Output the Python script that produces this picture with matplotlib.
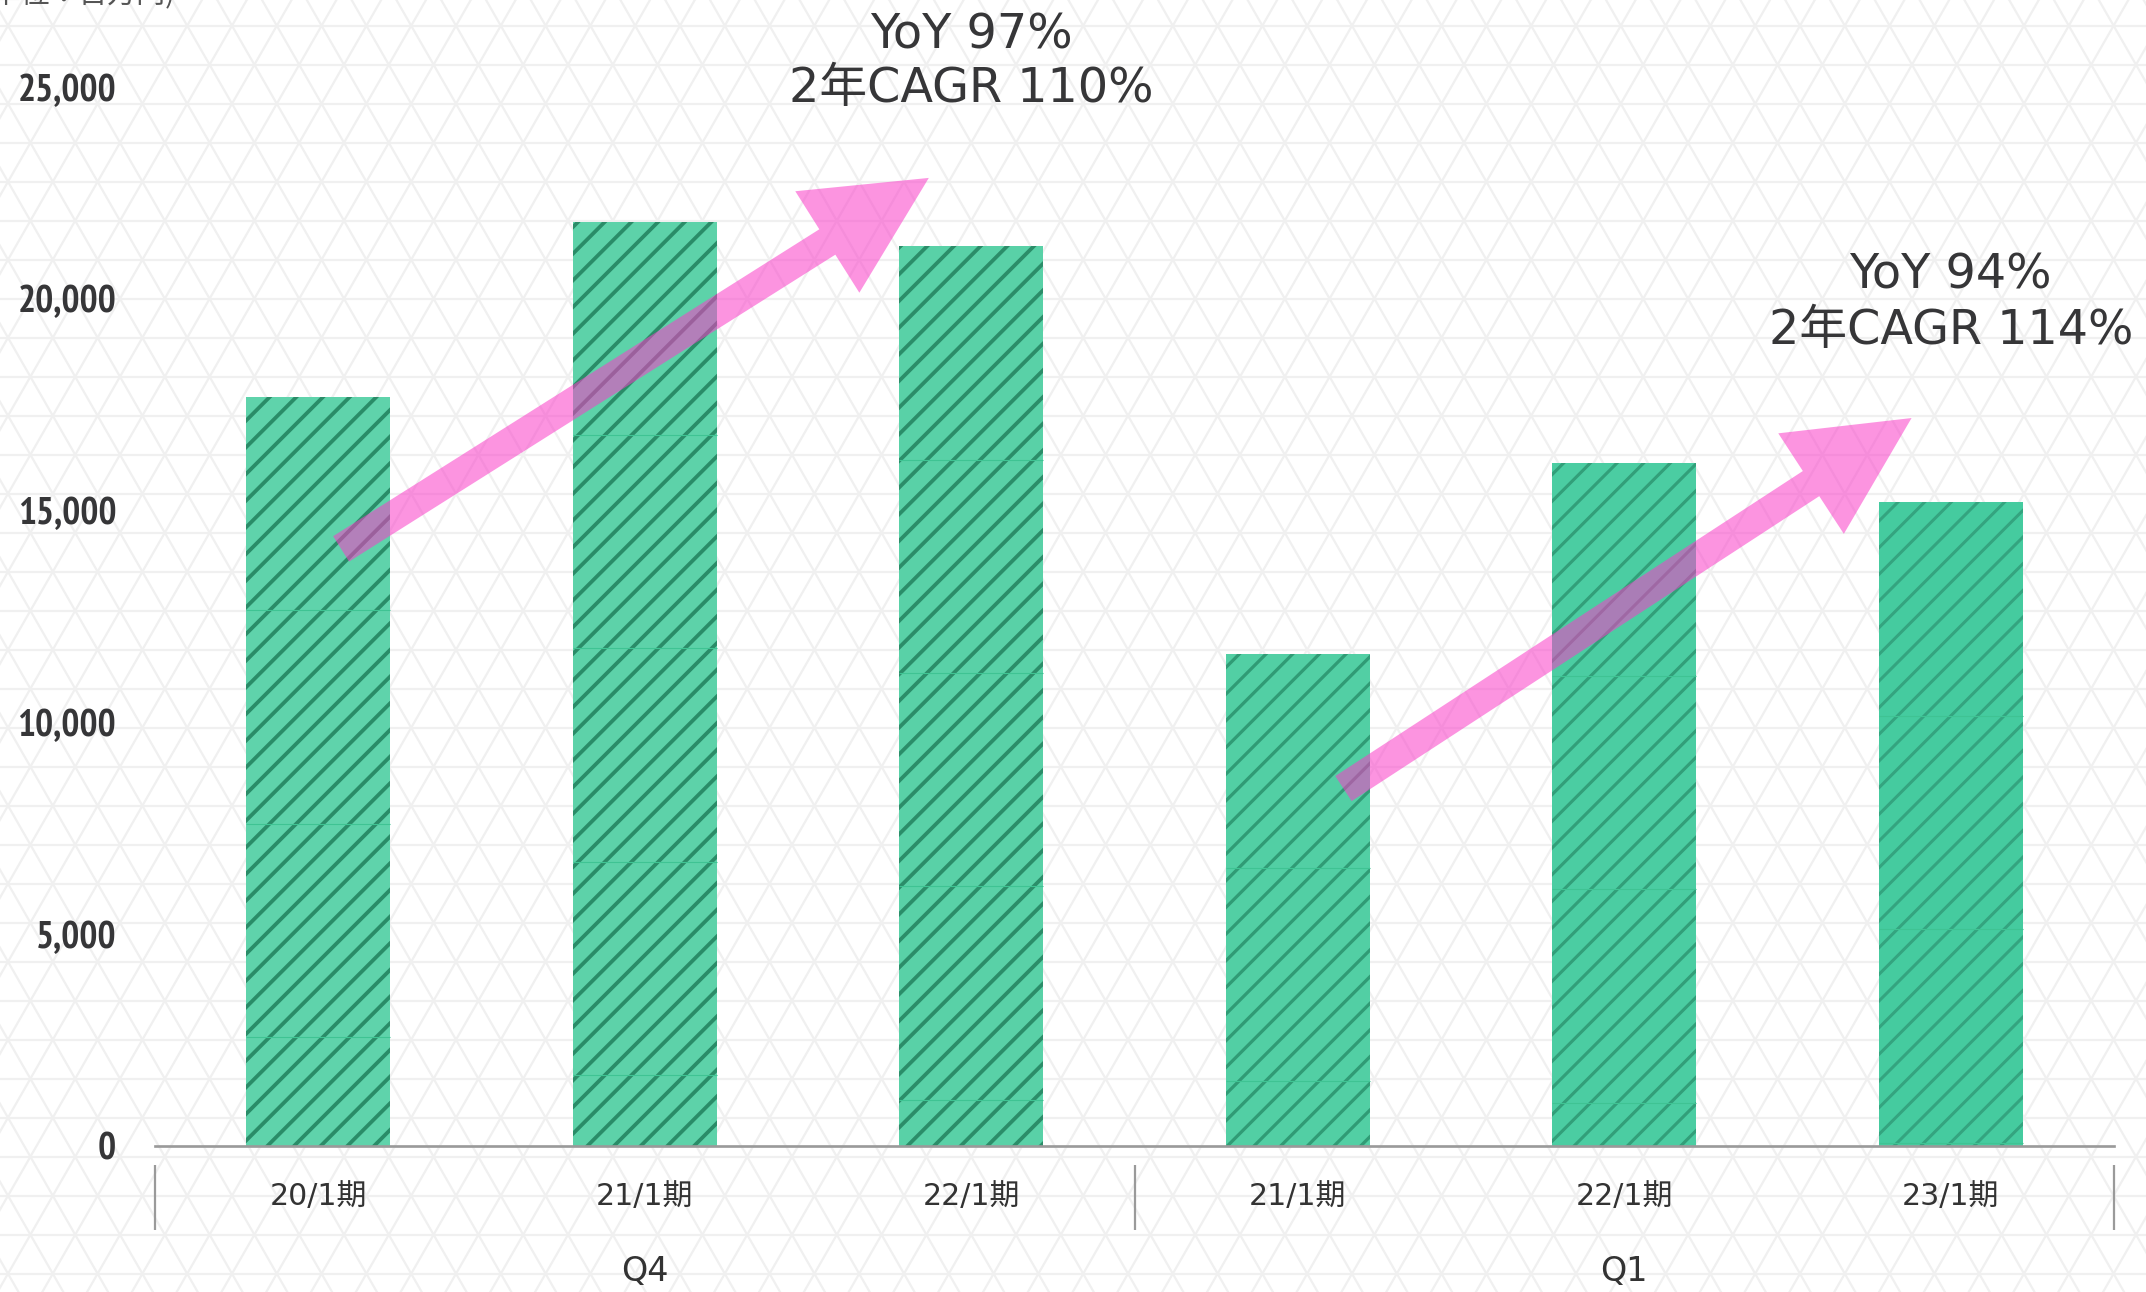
import matplotlib
matplotlib.use("Agg")
import matplotlib.pyplot as plt
from matplotlib import font_manager as fm
from matplotlib.patches import FancyArrowPatch, ArrowStyle
from matplotlib.collections import LineCollection

# ---------------- data ----------------
periods = ["20/1期", "21/1期", "22/1期", "21/1期", "22/1期", "23/1期"]
values = [17690, 21830, 21250, 11615, 16140, 15200]
groups = ["Q4", "Q1"]
group_sizes = [3, 3]
yticks = [0, 5000, 10000, 15000, 20000, 25000]
ytick_labels = ["0", "5,000", "10,000", "15,000", "20,000", "25,000"]
unit_label = "(単位：百万円)"
growth_yoy = ["YoY 97%", "YoY 94%"]
growth_cagr = ["2年CAGR 110%", "2年CAGR 114%"]
label_bar = [2, 5]                       # bar above which each growth label sits
arrow_from = [(0.07, 14100), (3.14, 8440)]
arrow_to = [(1.87, 22860), (4.88, 17190)]

# ---------------- style ----------------
fills = ["#5fd3ab", "#5dd2a9", "#59d1a7", "#52cfa4", "#4bcda2", "#45cb9f"]
hatch_cols = ["#2a8c68", "#2a8c68", "#2b8d69", "#309b75", "#329f79", "#34a47f"]
hatch_lw = [1.7, 1.7, 1.7, 1.45, 1.4, 1.35]
TILE = 5040
TXT = "#363638"
LAT = ["DejaVu Sans", "Noto Sans CJK JP"]
CJK = ["Noto Sans CJK JP", "DejaVu Sans"]

W, H, DPI = 2146, 1292, 160
fig = plt.figure(figsize=(W / DPI, H / DPI), dpi=DPI)
fig.patch.set_facecolor("white")

# pick a condensed bold font for the y tick labels, if one is installed
best = None
for f in fm.fontManager.ttflist:
    name = f.fname.lower()
    wt = f.weight if isinstance(f.weight, int) else (700 if "bold" in str(f.weight) else 400)
    if ("condensed" in name or "narrow" in name) and wt >= 600 and "italic" not in name \
            and "oblique" not in name and "mono" not in name and "serif" not in name.replace("sans", ""):
        score = 0 if "narrow" in name else (1 if "roboto" in name or "open" in name else 2)
        if best is None or score < best[0]:
            best = (score, f.fname)
if best is not None:
    tick_fp = fm.FontProperties(fname=best[1])
else:
    tick_fp = fm.FontProperties(family="Roboto", weight="bold")

# background triangular lattice
bg = fig.add_axes([0, 0, 1, 1], zorder=0)
bg.set_xlim(0, W)
bg.set_ylim(H, 0)
bg.axis("off")
dy, dx, y0, x0 = 39.0, 44.8, 25.7, 8.0
segs = []
for k in range(-2, 36):
    y = y0 + k * dy
    segs.append([(0, y), (W, y)])
slope = (dx / 2) / dy
ya, yb = -60, H + 60
for m in range(-40, 70):
    xc = x0 + m * dx
    for s in (1, -1):
        segs.append([(xc + s * slope * (ya - y0), ya), (xc + s * slope * (yb - y0), yb)])
bg.add_collection(LineCollection(segs, colors="#f0f0f0", linewidths=1.0))

# main axes
ax = fig.add_axes([155 / W, 1 - 1146 / H, (2114 - 155) / W, (1146 - 87.3) / H], zorder=1)
ax.set_facecolor("none")
ax.set_xlim(-0.5, 5.5)
ax.set_ylim(0, 25000)
for sp in ["top", "right", "left"]:
    ax.spines[sp].set_visible(False)
ax.spines["bottom"].set_color("#9a9a9a")
ax.spines["bottom"].set_linewidth(1.2)
ax.set_xticks([])
ax.set_yticks(yticks)
ax.set_yticklabels(ytick_labels)
ax.tick_params(axis="y", length=0, pad=17.5)

# size tick labels: cap height ~28px but "25,000" no wider than ~104px
renderer = fig.canvas.get_renderer()
size = 17.0
probe = fig.text(0, 0, ytick_labels[-1], fontproperties=tick_fp, fontsize=size)
wpx = probe.get_window_extent(renderer).width
probe.remove()
if wpx > 104:
    size = size * 104 / wpx
for t in ax.get_yticklabels():
    t.set_fontproperties(tick_fp)
    t.set_fontsize(size)
    t.set_color(TXT)

plt.rcParams["hatch.linewidth"] = hatch_lw[0]
BW = 0.44
xs = list(range(len(values)))
for i, v in enumerate(values):
    bars = ax.bar(xs[i], v, width=BW, color=fills[i], edgecolor=hatch_cols[i],
                  linewidth=0, hatch="//", zorder=2)
    for b in bars:
        if hasattr(b, "set_hatch_linewidth"):
            b.set_hatch_linewidth(hatch_lw[i])
    k = 1
    while v - k * TILE > 0:
        ax.hlines(v - k * TILE, xs[i] - BW / 2, xs[i] + BW / 2, color="#3fc393",
                  linewidth=0.5, zorder=2.5)
        k += 1

# x labels
xt = ax.get_xaxis_transform()
for i, p in enumerate(periods):
    ax.text(xs[i], -0.048, p, transform=xt, ha="center", va="center",
            fontsize=13.5, family=LAT, color="#333333", clip_on=False)

# group separators and labels
start = 0
bounds = [-0.5]
for g, n in zip(groups, group_sizes):
    ax.text(start + (n - 1) / 2, -0.119, g, transform=xt, ha="center", va="center",
            fontsize=15, family=LAT, color="#333333", clip_on=False)
    start += n
    bounds.append(start - 0.5)
ax.vlines(bounds, -0.079, -0.018, transform=xt, color="#9a9a9a", linewidth=1.0,
          clip_on=False)

# arrows
style = ArrowStyle.Simple(head_length=54, head_width=54, tail_width=13.5)
for a, b in zip(arrow_from, arrow_to):
    ar = FancyArrowPatch(a, b, arrowstyle=style, mutation_scale=1,
                         color=(250 / 255, 60 / 255, 200 / 255), alpha=0.55,
                         linewidth=0, shrinkA=0, shrinkB=0, zorder=3, clip_on=False)
    ax.add_patch(ar)

# growth labels
to_y = lambda py: (1146 - py) / (1146 - 87.3) * 25000
label_rows = [(to_y(35), to_y(89)), (to_y(275), to_y(330))]
for j in range(len(growth_yoy)):
    ax.text(label_bar[j], label_rows[j][0], growth_yoy[j], ha="center", va="center",
            fontsize=21.5, family=LAT, color=TXT, clip_on=False)
    ax.text(label_bar[j], label_rows[j][1], growth_cagr[j], ha="center", va="center",
            fontsize=21.5, family=LAT, color=TXT, clip_on=False)

# unit label (cut at top edge)
fig.text(-18 / W, 1 - 3 / H, unit_label, ha="left", va="baseline", fontsize=13,
         family=CJK, color="#555555")

fig.savefig("out.png", dpi=DPI, facecolor="white")
